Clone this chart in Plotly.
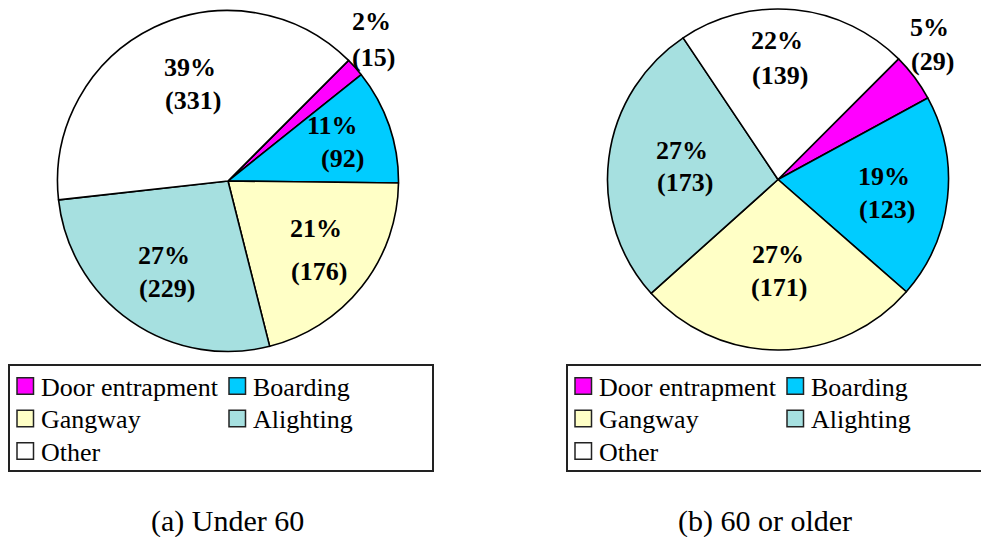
import plotly.graph_objects as go

# ---- data ----
categories = ["Door entrapment", "Boarding", "Gangway", "Alighting", "Other"]
under60 = [15, 92, 176, 229, 331]
over60 = [29, 123, 171, 173, 139]
panel_titles = ["(a) Under 60", "(b) 60 or older"]
colors = ["#FF00FF", "#00CCFF", "#FFFFC6", "#A6E0E0", "#FFFFFF"]

W, H = 981, 537


def px(x):
    return x / W


def py(y):
    return 1 - y / H


# pie geometry (pixels): centre x, centre y, radius
pies = [(228, 181, 170.5), (778, 179.5, 170.5)]
# label line centres in pixels: (pct_x, pct_y, cnt_x, cnt_y) per category
label_pos = [
    [(371, 22, 373, 57), (332, 125, 342, 159), (316, 228, 319, 271),
     (164, 255, 167, 288), (190, 67, 193, 100)],
    [(929, 27, 932, 61), (884, 176, 887, 210), (778, 254, 779, 287),
     (682, 150, 685, 183), (777, 41, 780, 76)],
]
legend_box = [(9, 365, 433, 471), (567, 365, 991, 471)]
caption_x = [227, 765]

fig = go.Figure()
annotations = []
shapes = []
serif = "Liberation Serif, Times New Roman, serif"

for i, vals in enumerate([under60, over60]):
    cx, cy, r = pies[i]
    fig.add_trace(go.Pie(
        labels=categories, values=vals, sort=False, direction="clockwise",
        rotation=45, textinfo="none", hoverinfo="label+value+percent",
        marker=dict(colors=colors, line=dict(color="black", width=1.6)),
        domain=dict(x=[px(cx - r), px(cx + r)], y=[py(cy + r), py(cy - r)]),
        showlegend=False,
    ))
    total = sum(vals)
    for j, v in enumerate(vals):
        pxx, pyy, cxx, cyy = label_pos[i][j]
        pct = round(100 * v / total)
        annotations.append(dict(
            x=px(pxx), y=py(pyy), xref="paper", yref="paper",
            text=f"<b>{pct}%</b>", showarrow=False,
            xanchor="center", yanchor="middle",
            font=dict(family=serif, size=26, color="black")))
        annotations.append(dict(
            x=px(cxx), y=py(cyy), xref="paper", yref="paper",
            text=f"<b>({v})</b>", showarrow=False,
            xanchor="center", yanchor="middle",
            font=dict(family=serif, size=26, color="black")))

    # legend box
    x0, y0, x1, y1 = legend_box[i]
    shapes.append(dict(type="rect", xref="paper", yref="paper",
                       x0=px(x0), x1=px(x1), y0=py(y1), y1=py(y0),
                       line=dict(color="#222222", width=2),
                       fillcolor="white", layer="below"))
    for j, cat in enumerate(categories):
        col = j % 2
        row = j // 2
        sx = x0 + 8 + col * 212
        sy = 386 + row * 32.5
        shapes.append(dict(type="rect", xref="paper", yref="paper",
                           x0=px(sx), x1=px(sx + 16.5),
                           y0=py(sy + 8.25), y1=py(sy - 8.25),
                           line=dict(color="#222222", width=1.5),
                           fillcolor=colors[j]))
        annotations.append(dict(
            x=px(sx + 22), y=py(sy + 1), xref="paper", yref="paper",
            text=cat, showarrow=False, xanchor="left", yanchor="middle",
            font=dict(family=serif, size=26, color="black")))

    annotations.append(dict(
        x=px(caption_x[i]), y=py(521), xref="paper", yref="paper",
        text=panel_titles[i], showarrow=False, xanchor="center",
        yanchor="middle", font=dict(family=serif, size=30, color="black")))

fig.update_layout(
    width=W, height=H, margin=dict(l=0, r=0, t=0, b=0),
    paper_bgcolor="white", plot_bgcolor="white",
    annotations=annotations, shapes=shapes, showlegend=False,
)
fig.write_html(
    "out.html",
    config={"displayModeBar": False},
    post_script="document.body.style.margin='0';document.body.style.overflow='hidden';",
)
